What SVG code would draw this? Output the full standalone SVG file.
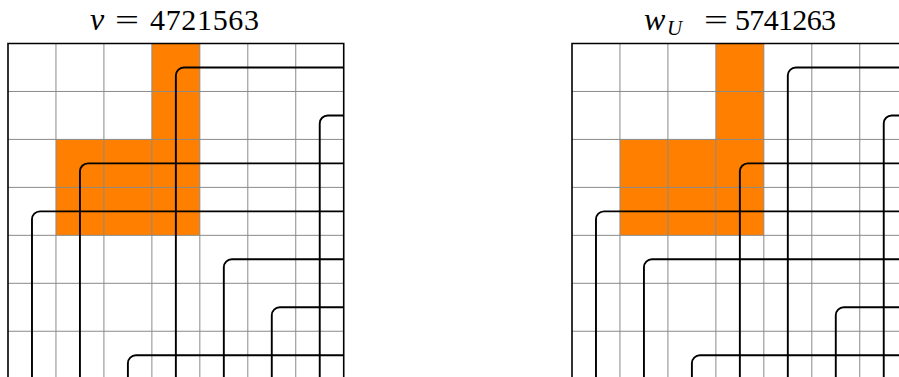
<svg xmlns="http://www.w3.org/2000/svg" width="899" height="377" viewBox="0 0 899 377">
  <style>
    .title { font-family: "Liberation Serif", "Times New Roman", serif; font-size: 30px; fill: #000; }
    .it { font-style: italic; }
    .cells { fill: #ff8000; stroke: none; }
    .grid { stroke: #8a8a8a; stroke-width: 1; fill: none; }
    .border { stroke: #000; stroke-width: 1.6; fill: none; }
    .wire { stroke: #000; stroke-width: 1.9; fill: none; }
  </style>
  <defs>
    <g id="board">
      <path class="cells" d="M143.88 0 H191.84 V191.84 H47.96 V95.92 H143.88 Z"/>
      <path class="grid" d="M47.96 0 V340 M95.92 0 V340 M143.88 0 V340 M191.84 0 V340 M239.8 0 V340 M287.76 0 V340 M0 47.96 H335.72 M0 95.92 H335.72 M0 143.88 H335.72 M0 191.84 H335.72 M0 239.8 H335.72 M0 287.76 H335.72"/>
      <path class="border" d="M0 340 V0 H335.72 V340"/>
    </g>
  </defs>

  <g id="left-diagram">
    <g id="title-v">
      <text class="title it" x="90" y="29.5" style="font-size:32px">v</text>
      <text class="title" x="115" y="29.5" textLength="24" lengthAdjust="spacingAndGlyphs">=</text>
      <text class="title" x="150" y="29.5" textLength="109" lengthAdjust="spacing">4721563</text>
    </g>
    <g id="board-v" transform="translate(8 43.5)">
      <use href="#board"/>
      <g id="wires-v">
        <path class="wire" d="M335.72 23.98 H175.86 A8 8 0 0 0 167.86 31.98 V340"/>
        <path class="wire" d="M335.72 71.94 H319.74 A8 8 0 0 0 311.74 79.94 V340"/>
        <path class="wire" d="M335.72 119.9 H79.94 A8 8 0 0 0 71.94 127.9 V340"/>
        <path class="wire" d="M335.72 167.86 H31.98 A8 8 0 0 0 23.98 175.86 V340"/>
        <path class="wire" d="M335.72 215.82 H223.82 A8 8 0 0 0 215.82 223.82 V340"/>
        <path class="wire" d="M335.72 263.78 H271.78 A8 8 0 0 0 263.78 271.78 V340"/>
        <path class="wire" d="M335.72 311.74 H127.9 A8 8 0 0 0 119.9 319.74 V340"/>
      </g>
    </g>
  </g>

  <g id="right-diagram">
    <g id="title-w">
      <text class="title it" x="644" y="29.5" style="font-size:32px">w</text>
      <text class="title it" x="667" y="35" style="font-size:21px">U</text>
      <text class="title" x="704" y="29.5" textLength="24" lengthAdjust="spacingAndGlyphs">=</text>
      <text class="title" x="735" y="29.5" textLength="101" lengthAdjust="spacing">5741263</text>
    </g>
    <g id="board-w" transform="translate(572 43.5)">
      <use href="#board"/>
      <g id="wires-w">
        <path class="wire" d="M335.72 23.98 H223.82 A8 8 0 0 0 215.82 31.98 V340"/>
        <path class="wire" d="M335.72 71.94 H319.74 A8 8 0 0 0 311.74 79.94 V340"/>
        <path class="wire" d="M335.72 119.9 H175.86 A8 8 0 0 0 167.86 127.9 V340"/>
        <path class="wire" d="M335.72 167.86 H31.98 A8 8 0 0 0 23.98 175.86 V340"/>
        <path class="wire" d="M335.72 215.82 H79.94 A8 8 0 0 0 71.94 223.82 V340"/>
        <path class="wire" d="M335.72 263.78 H271.78 A8 8 0 0 0 263.78 271.78 V340"/>
        <path class="wire" d="M335.72 311.74 H127.9 A8 8 0 0 0 119.9 319.74 V340"/>
      </g>
    </g>
  </g>
</svg>
